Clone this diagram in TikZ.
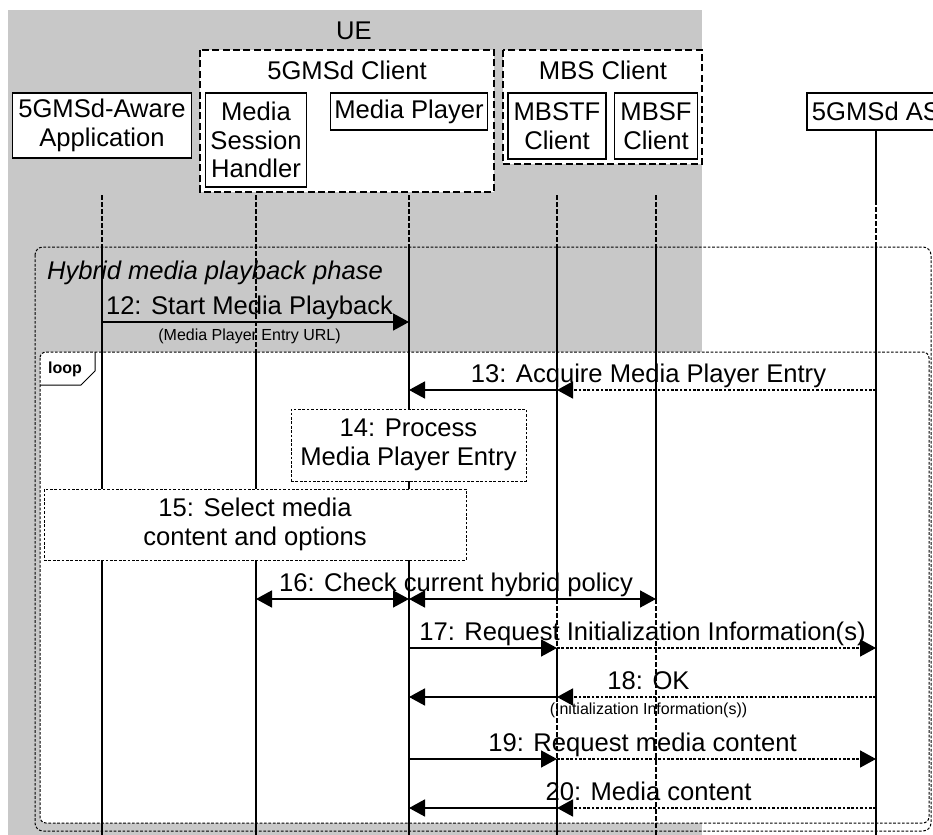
\documentclass[tikz,border=0pt]{standalone}
\usepackage{fontspec}
\setmainfont{Liberation Sans}
\usepackage{xcolor}
\usepackage{tikz}
\usetikzlibrary{arrows.meta}

\definecolor{uegray}{RGB}{200,200,200}

\begin{document}
\begin{tikzpicture}[
    x=0.5pt, y=-0.5pt,
    every node/.style={font=\fontsize{12.8}{14.3}\selectfont},
    actor/.style={rectangle, draw, fill=white, line width=0.6pt, align=center, inner sep=1pt},
    group/.style={draw, fill=white, line width=0.85pt, dash pattern=on 3.5pt off 1.7pt},
    note/.style={rectangle, draw, fill=white, line width=0.5pt, dash pattern=on 1.35pt off 0.85pt, align=center},
    frame/.style={line width=0.5pt, dash pattern=on 1.35pt off 0.85pt},
    life/.style={line width=0.7pt},
    lifedash/.style={line width=0.7pt, dash pattern=on 2.5pt off 1pt},
    msg/.style={line width=0.85pt, -{Triangle[length=8pt, width=8.5pt]}},
    msgdash/.style={msg, dash pattern=on 1.35pt off 0.85pt},
    both/.style={line width=0.85pt, {Triangle[length=8pt, width=8.5pt]}-{Triangle[length=8pt, width=8.5pt]}},
    msg label/.style={inner sep=1pt, text depth=0.25em},
    sub label/.style={inner sep=3pt, font=\fontsize{8}{9.6}\selectfont},
  ]

  \useasboundingbox (0,0) rectangle (933,835);
  \clip (0,0) rectangle (933,835);

  % UE area
  \fill[uegray] (8,10) rectangle (702,835);
  \node (ue) at (354,31) {UE};

  % Client groups
  \draw[group] (200,50) rectangle (494,192);
  \node (clientlbl) at (347,70) {5GMSd Client};
  \draw[group] (503,50) rectangle (702,164);
  \node (mbslbl) at (603,70) {MBS Client};

  % Participants
  \node[actor, minimum width=89.5pt, minimum height=32.5pt] (app)   at (102,125.5) {5GMSd-Aware\\Application};
  \node[actor, minimum width=50.5pt, minimum height=47pt]   (msh)   at (256,140)   {Media\\Session\\Handler};
  \node[actor, minimum width=78.5pt, minimum height=18.5pt] (mp)    at (409,111.5) {Media Player};
  \node[actor, minimum width=49pt,   minimum height=33pt]   (mbstf) at (557,126)   {MBSTF\\Client};
  \node[actor, minimum width=41.5pt, minimum height=33pt]   (mbsf)  at (656,126)   {MBSF\\Client};
  \node[actor, minimum width=69pt,   minimum height=18.5pt] (as)    at (876,111.5) {5GMSd AS};

  % Phase and loop frames
  \draw[frame, rounded corners=4pt] (35,247) rectangle (931,831);
  \node[anchor=west, font=\fontsize{12.8}{14.3}\selectfont\itshape] (phase) at (40,273) {Hybrid media playback phase};
  \draw[frame, fill=white, rounded corners=3pt] (40,352) rectangle (929,823);
  \draw[line width=0.5pt] (95,352) -- (95,371) -- (81,385) -- (40,385);
  \node[font=\fontsize{8}{9.6}\selectfont\bfseries] (looplbl) at (65,369) {loop};

  % Rows
  \coordinate (lltop) at (0,195);
  \coordinate (asdash) at (0,200);
  \coordinate (phtop) at (0,247);
  \coordinate (lptop) at (0,352);
  \coordinate (bot)   at (0,835);
  \coordinate (r12) at (0,322);
  \coordinate (r13) at (0,390);
  \coordinate (r16) at (0,599);
  \coordinate (r17) at (0,648);
  \coordinate (r18) at (0,697);
  \coordinate (r19) at (0,759);
  \coordinate (r20) at (0,808);

  % Lifelines
  \draw[lifedash] (app |- lltop) -- (app |- phtop);
  \draw[life]     (app |- phtop) -- (app |- bot);
  \draw[lifedash] (msh |- lltop) -- (msh |- lptop);
  \draw[life]     (msh |- lptop) -- (msh |- bot);
  \draw[lifedash] (mp |- lltop) -- (mp |- phtop);
  \draw[life]     (mp |- phtop) -- (mp |- bot);
  \draw[lifedash] (mbstf |- lltop) -- (mbstf |- phtop);
  \draw[life]     (mbstf |- phtop) -- (mbstf |- r16);
  \draw[lifedash] (mbstf |- r16) -- (mbstf |- r17);
  \draw[life]     (mbstf |- r17) -- (mbstf |- r18);
  \draw[lifedash] (mbstf |- r18) -- (mbstf |- r19);
  \draw[life]     (mbstf |- r19) -- (mbstf |- bot);
  \draw[lifedash] (mbsf |- lltop) -- (mbsf |- phtop);
  \draw[life]     (mbsf |- phtop) -- (mbsf |- r16);
  \draw[lifedash] (mbsf |- r16) -- (mbsf |- bot);
  \draw[life]     (as.south) -- (as |- asdash);
  \draw[lifedash] (as |- asdash) -- (as |- phtop);
  \draw[life]     (as |- phtop) -- (as |- bot);

  % Notes
  \node[note, minimum width=117.5pt, minimum height=36pt] (n14) at (408.5,445) {14: Process\\Media Player Entry};
  \node[note, minimum width=211pt, minimum height=35.5pt] (n15) at (255,524.5) {15: Select media\\content and options};

  % Messages
  \draw[msg] (app |- r12) -- node[msg label, above, xshift=-3pt] (l12) {12: Start Media Playback}
    node[sub label, below, xshift=-3pt] (s12) {(Media Player Entry URL)} (mp |- r12);

  \draw[msgdash] (as |- r13) -- (mbstf |- r13);
  \draw[msg] (mbstf |- r13) -- (mp |- r13);
  \path (mp |- r13) -- node[msg label, above, xshift=3pt] (l13) {13: Acquire Media Player Entry} (as |- r13);

  \draw[both] (msh |- r16) -- (mp |- r16);
  \draw[both] (mp |- r16) -- (mbsf |- r16);
  \path (msh |- r16) -- node[msg label, above] (l16) {16: Check current hybrid policy} (mbsf |- r16);

  \draw[msg] (mp |- r17) -- (mbstf |- r17);
  \draw[msgdash] (mbstf |- r17) -- (as |- r17);
  \path (mp |- r17) -- node[msg label, above] (l17) {17: Request Initialization Information(s)} (as |- r17);

  \draw[msgdash] (as |- r18) -- (mbstf |- r18);
  \draw[msg] (mbstf |- r18) -- (mp |- r18);
  \path (mp |- r18) -- node[msg label, above, xshift=3pt] (l18) {18: OK}
    node[sub label, below, xshift=3pt] (s18) {(Initialization Information(s))} (as |- r18);

  \draw[msg] (mp |- r19) -- (mbstf |- r19);
  \draw[msgdash] (mbstf |- r19) -- (as |- r19);
  \path (mp |- r19) -- node[msg label, above] (l19) {19: Request media content} (as |- r19);

  \draw[msgdash] (as |- r20) -- (mbstf |- r20);
  \draw[msg] (mbstf |- r20) -- (mp |- r20);
  \path (mp |- r20) -- node[msg label, above, xshift=3pt] (l20) {20: Media content} (as |- r20);

\end{tikzpicture}
\end{document}
